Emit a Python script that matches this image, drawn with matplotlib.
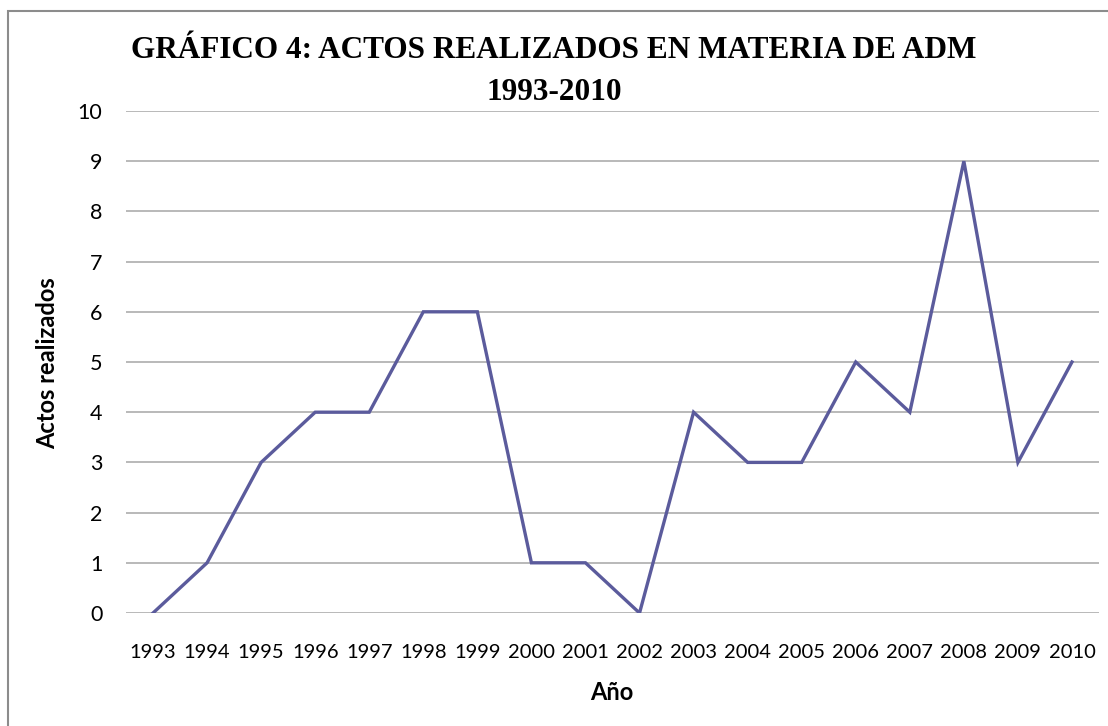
import matplotlib
matplotlib.use("Agg")
import matplotlib.pyplot as plt
from matplotlib.patches import Rectangle

years = ["1993", "1994", "1995", "1996", "1997", "1998", "1999", "2000", "2001",
         "2002", "2003", "2004", "2005", "2006", "2007", "2008", "2009", "2010"]
actos = [0, 1, 3, 4, 4, 6, 6, 1, 1, 0, 4, 3, 3, 5, 4, 9, 3, 5]
yticks = list(range(0, 11))

W, H = 1108, 726
fig = plt.figure(figsize=(W / 100, H / 100), dpi=100)
fig.patch.set_facecolor("white")

# outer chart border (extends beyond the image at right/bottom)
fig.patches.append(Rectangle((8 / W, -0.1), 1.2, (1 - 11 / H) + 0.1,
                             transform=fig.transFigure, fill=False,
                             edgecolor="#8c8c8c", linewidth=1.5))

ax = fig.add_axes([126 / W, 1 - 613 / H, (1099 - 126) / W, (613 - 111) / H])
x = list(range(len(years)))
ax.plot(x, actos, color="#5b5b9c", linewidth=2.4, solid_joinstyle="miter", zorder=3)

ax.set_xlim(-0.5, len(years) - 0.5)
ax.set_ylim(0, 10)
ax.set_yticks(yticks)
ax.set_xticks(x)
ax.set_xticklabels(years, fontfamily="Lato", fontsize=14.5)
ax.set_yticklabels([str(v) for v in yticks], fontfamily="Lato", fontsize=15.5)
ax.tick_params(length=0)
ax.tick_params(axis="y", pad=17)
ax.tick_params(axis="x", pad=22)
for s in ax.spines.values():
    s.set_visible(False)
ax.grid(axis="y", color="#a6a6a6", linewidth=1.1)
ax.set_axisbelow(True)

fig.text(554 / W, 1 - 58 / H, "GRÁFICO 4: ACTOS REALIZADOS EN MATERIA DE ADM",
         ha="center", va="baseline", fontfamily="Liberation Serif",
         fontweight="bold", fontsize=22.5)
fig.text(554 / W, 1 - 100 / H, "1993-2010",
         ha="center", va="baseline", fontfamily="Liberation Serif",
         fontweight="bold", fontsize=22.5)

fig.text(48 / W, 1 - 363 / H, "Actos realizados", rotation=90, ha="center",
         va="center", fontfamily="Lato", fontweight="bold", fontsize=17)
fig.text(612 / W, 1 - 692 / H, "Año", ha="center", va="center",
         fontfamily="Lato", fontweight="bold", fontsize=17)

fig.savefig("out.png", dpi=100)
